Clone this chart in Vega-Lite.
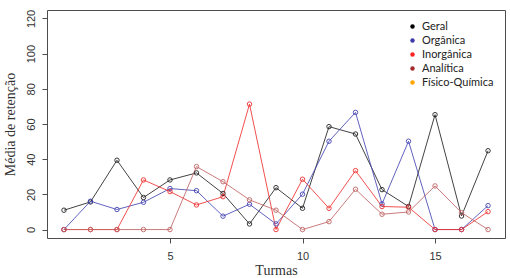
{
  "$schema": "https://vega.github.io/schema/vega-lite/v6.json",
  "width": 458,
  "height": 228,
  "autosize": {"type": "none"},
  "padding": {"left": 47, "top": 10, "right": 5, "bottom": 40},
  "background": "white",
  "config": {
    "view": {"stroke": "#4d4d4d", "strokeWidth": 1},
    "axis": {"grid": false, "domain": false, "tickColor": "#4d4d4d", "tickSize": 5, "labelFont": "Liberation Sans", "labelFontSize": 11, "labelColor": "#333333", "titleFont": "Liberation Serif", "titleFontSize": 14, "titleFontWeight": "normal", "titleColor": "#333333"}
  },
  "data": {
    "values": [
      {"turma": 1, "serie": "Geral", "valor": 11.0},
      {"turma": 2, "serie": "Geral", "valor": 15.7},
      {"turma": 3, "serie": "Geral", "valor": 39.4},
      {"turma": 4, "serie": "Geral", "valor": 18.2},
      {"turma": 5, "serie": "Geral", "valor": 28.2},
      {"turma": 6, "serie": "Geral", "valor": 32.2},
      {"turma": 7, "serie": "Geral", "valor": 20.5},
      {"turma": 8, "serie": "Geral", "valor": 3.2},
      {"turma": 9, "serie": "Geral", "valor": 23.8},
      {"turma": 10, "serie": "Geral", "valor": 12.1},
      {"turma": 11, "serie": "Geral", "valor": 58.5},
      {"turma": 12, "serie": "Geral", "valor": 54.3},
      {"turma": 13, "serie": "Geral", "valor": 22.7},
      {"turma": 14, "serie": "Geral", "valor": 13.1},
      {"turma": 15, "serie": "Geral", "valor": 65.3},
      {"turma": 16, "serie": "Geral", "valor": 7.7},
      {"turma": 17, "serie": "Geral", "valor": 44.8},
      {"turma": 1, "serie": "Orgânica", "valor": 0},
      {"turma": 2, "serie": "Orgânica", "valor": 16.1},
      {"turma": 3, "serie": "Orgânica", "valor": 11.4},
      {"turma": 4, "serie": "Orgânica", "valor": 15.5},
      {"turma": 5, "serie": "Orgânica", "valor": 23.3},
      {"turma": 6, "serie": "Orgânica", "valor": 22.1},
      {"turma": 7, "serie": "Orgânica", "valor": 7.6},
      {"turma": 8, "serie": "Orgânica", "valor": 14.4},
      {"turma": 9, "serie": "Orgânica", "valor": 3.2},
      {"turma": 10, "serie": "Orgânica", "valor": 20.1},
      {"turma": 11, "serie": "Orgânica", "valor": 50.2},
      {"turma": 12, "serie": "Orgânica", "valor": 66.6},
      {"turma": 13, "serie": "Orgânica", "valor": 14.6},
      {"turma": 14, "serie": "Orgânica", "valor": 50.2},
      {"turma": 15, "serie": "Orgânica", "valor": 0},
      {"turma": 16, "serie": "Orgânica", "valor": 0},
      {"turma": 17, "serie": "Orgânica", "valor": 13.6},
      {"turma": 1, "serie": "Inorgânica", "valor": 0},
      {"turma": 2, "serie": "Inorgânica", "valor": 0},
      {"turma": 3, "serie": "Inorgânica", "valor": 0},
      {"turma": 4, "serie": "Inorgânica", "valor": 28.2},
      {"turma": 5, "serie": "Inorgânica", "valor": 21.6},
      {"turma": 6, "serie": "Inorgânica", "valor": 14.0},
      {"turma": 7, "serie": "Inorgânica", "valor": 18.7},
      {"turma": 8, "serie": "Inorgânica", "valor": 71.3},
      {"turma": 9, "serie": "Inorgânica", "valor": 0},
      {"turma": 10, "serie": "Inorgânica", "valor": 28.6},
      {"turma": 11, "serie": "Inorgânica", "valor": 12.1},
      {"turma": 12, "serie": "Inorgânica", "valor": 33.5},
      {"turma": 13, "serie": "Inorgânica", "valor": 13.1},
      {"turma": 14, "serie": "Inorgânica", "valor": 12.7},
      {"turma": 15, "serie": "Inorgânica", "valor": 0},
      {"turma": 16, "serie": "Inorgânica", "valor": 0},
      {"turma": 17, "serie": "Inorgânica", "valor": 10.2},
      {"turma": 1, "serie": "Analítica", "valor": 0},
      {"turma": 2, "serie": "Analítica", "valor": 0},
      {"turma": 3, "serie": "Analítica", "valor": 0},
      {"turma": 4, "serie": "Analítica", "valor": 0},
      {"turma": 5, "serie": "Analítica", "valor": 0},
      {"turma": 6, "serie": "Analítica", "valor": 35.8},
      {"turma": 7, "serie": "Analítica", "valor": 27.2},
      {"turma": 8, "serie": "Analítica", "valor": 16.9},
      {"turma": 9, "serie": "Analítica", "valor": 11.0},
      {"turma": 10, "serie": "Analítica", "valor": 0},
      {"turma": 11, "serie": "Analítica", "valor": 4.5},
      {"turma": 12, "serie": "Analítica", "valor": 22.9},
      {"turma": 13, "serie": "Analítica", "valor": 8.7},
      {"turma": 14, "serie": "Analítica", "valor": 10.0},
      {"turma": 15, "serie": "Analítica", "valor": 24.8},
      {"turma": 16, "serie": "Analítica", "valor": 9.6},
      {"turma": 17, "serie": "Analítica", "valor": 0}
    ]
  },
  "encoding": {
    "x": {
      "field": "turma", "type": "quantitative",
      "scale": {"domain": [0.36, 17.64], "nice": false, "zero": false},
      "axis": {"values": [5, 10, 15], "title": "Turmas", "labelPadding": 7, "titlePadding": 2}
    },
    "y": {
      "field": "valor", "type": "quantitative",
      "scale": {"domain": [-4.8, 124.8], "nice": false, "zero": false},
      "axis": {"values": [0, 20, 40, 60, 80, 100, 120], "title": "Média de retenção", "labelAngle": -90, "labelAlign": "center", "labelBaseline": "bottom", "labelPadding": 6, "titlePadding": 8}
    }
  },
  "layer": [
    {
      "mark": {"type": "line", "strokeWidth": 1, "opacity": 0.85},
      "encoding": {
        "stroke": {
          "field": "serie", "type": "nominal", "legend": null,
          "scale": {
            "domain": ["Geral", "Orgânica", "Inorgânica", "Analítica"],
            "range": ["#222222", "#4646b4", "#ee3030", "#c06464"]
          }
        }
      }
    },
    {
      "mark": {"type": "point", "filled": false, "size": 20, "strokeWidth": 1, "opacity": 0.9},
      "encoding": {
        "stroke": {"field": "serie", "type": "nominal", "legend": null}
      }
    },
    {
      "mark": {"type": "point", "filled": true, "shape": "circle", "size": 0, "opacity": 1, "strokeWidth": 0},
      "encoding": {
        "color": {
          "field": "serie", "type": "nominal",
          "scale": {
            "domain": ["Geral", "Orgânica", "Inorgânica", "Analítica", "Físico-Química"],
            "range": ["#000000", "#3a3aa8", "#ff2020", "#a52a2a", "#ffa500"]
          },
          "legend": {
            "title": null,
            "orient": "none",
            "legendX": 360,
            "legendY": 11,
            "padding": 0,
            "symbolType": "circle",
            "symbolSize": 20,
            "symbolStrokeWidth": 0,
            "symbolOpacity": 1,
            "rowPadding": 2,
            "labelFont": "Lato",
            "labelFontSize": 11,
            "labelColor": "#222222",
            "labelOffset": 4,
            "values": ["Geral", "Orgânica", "Inorgânica", "Analítica", "Físico-Química"]
          }
        }
      }
    }
  ]
}
